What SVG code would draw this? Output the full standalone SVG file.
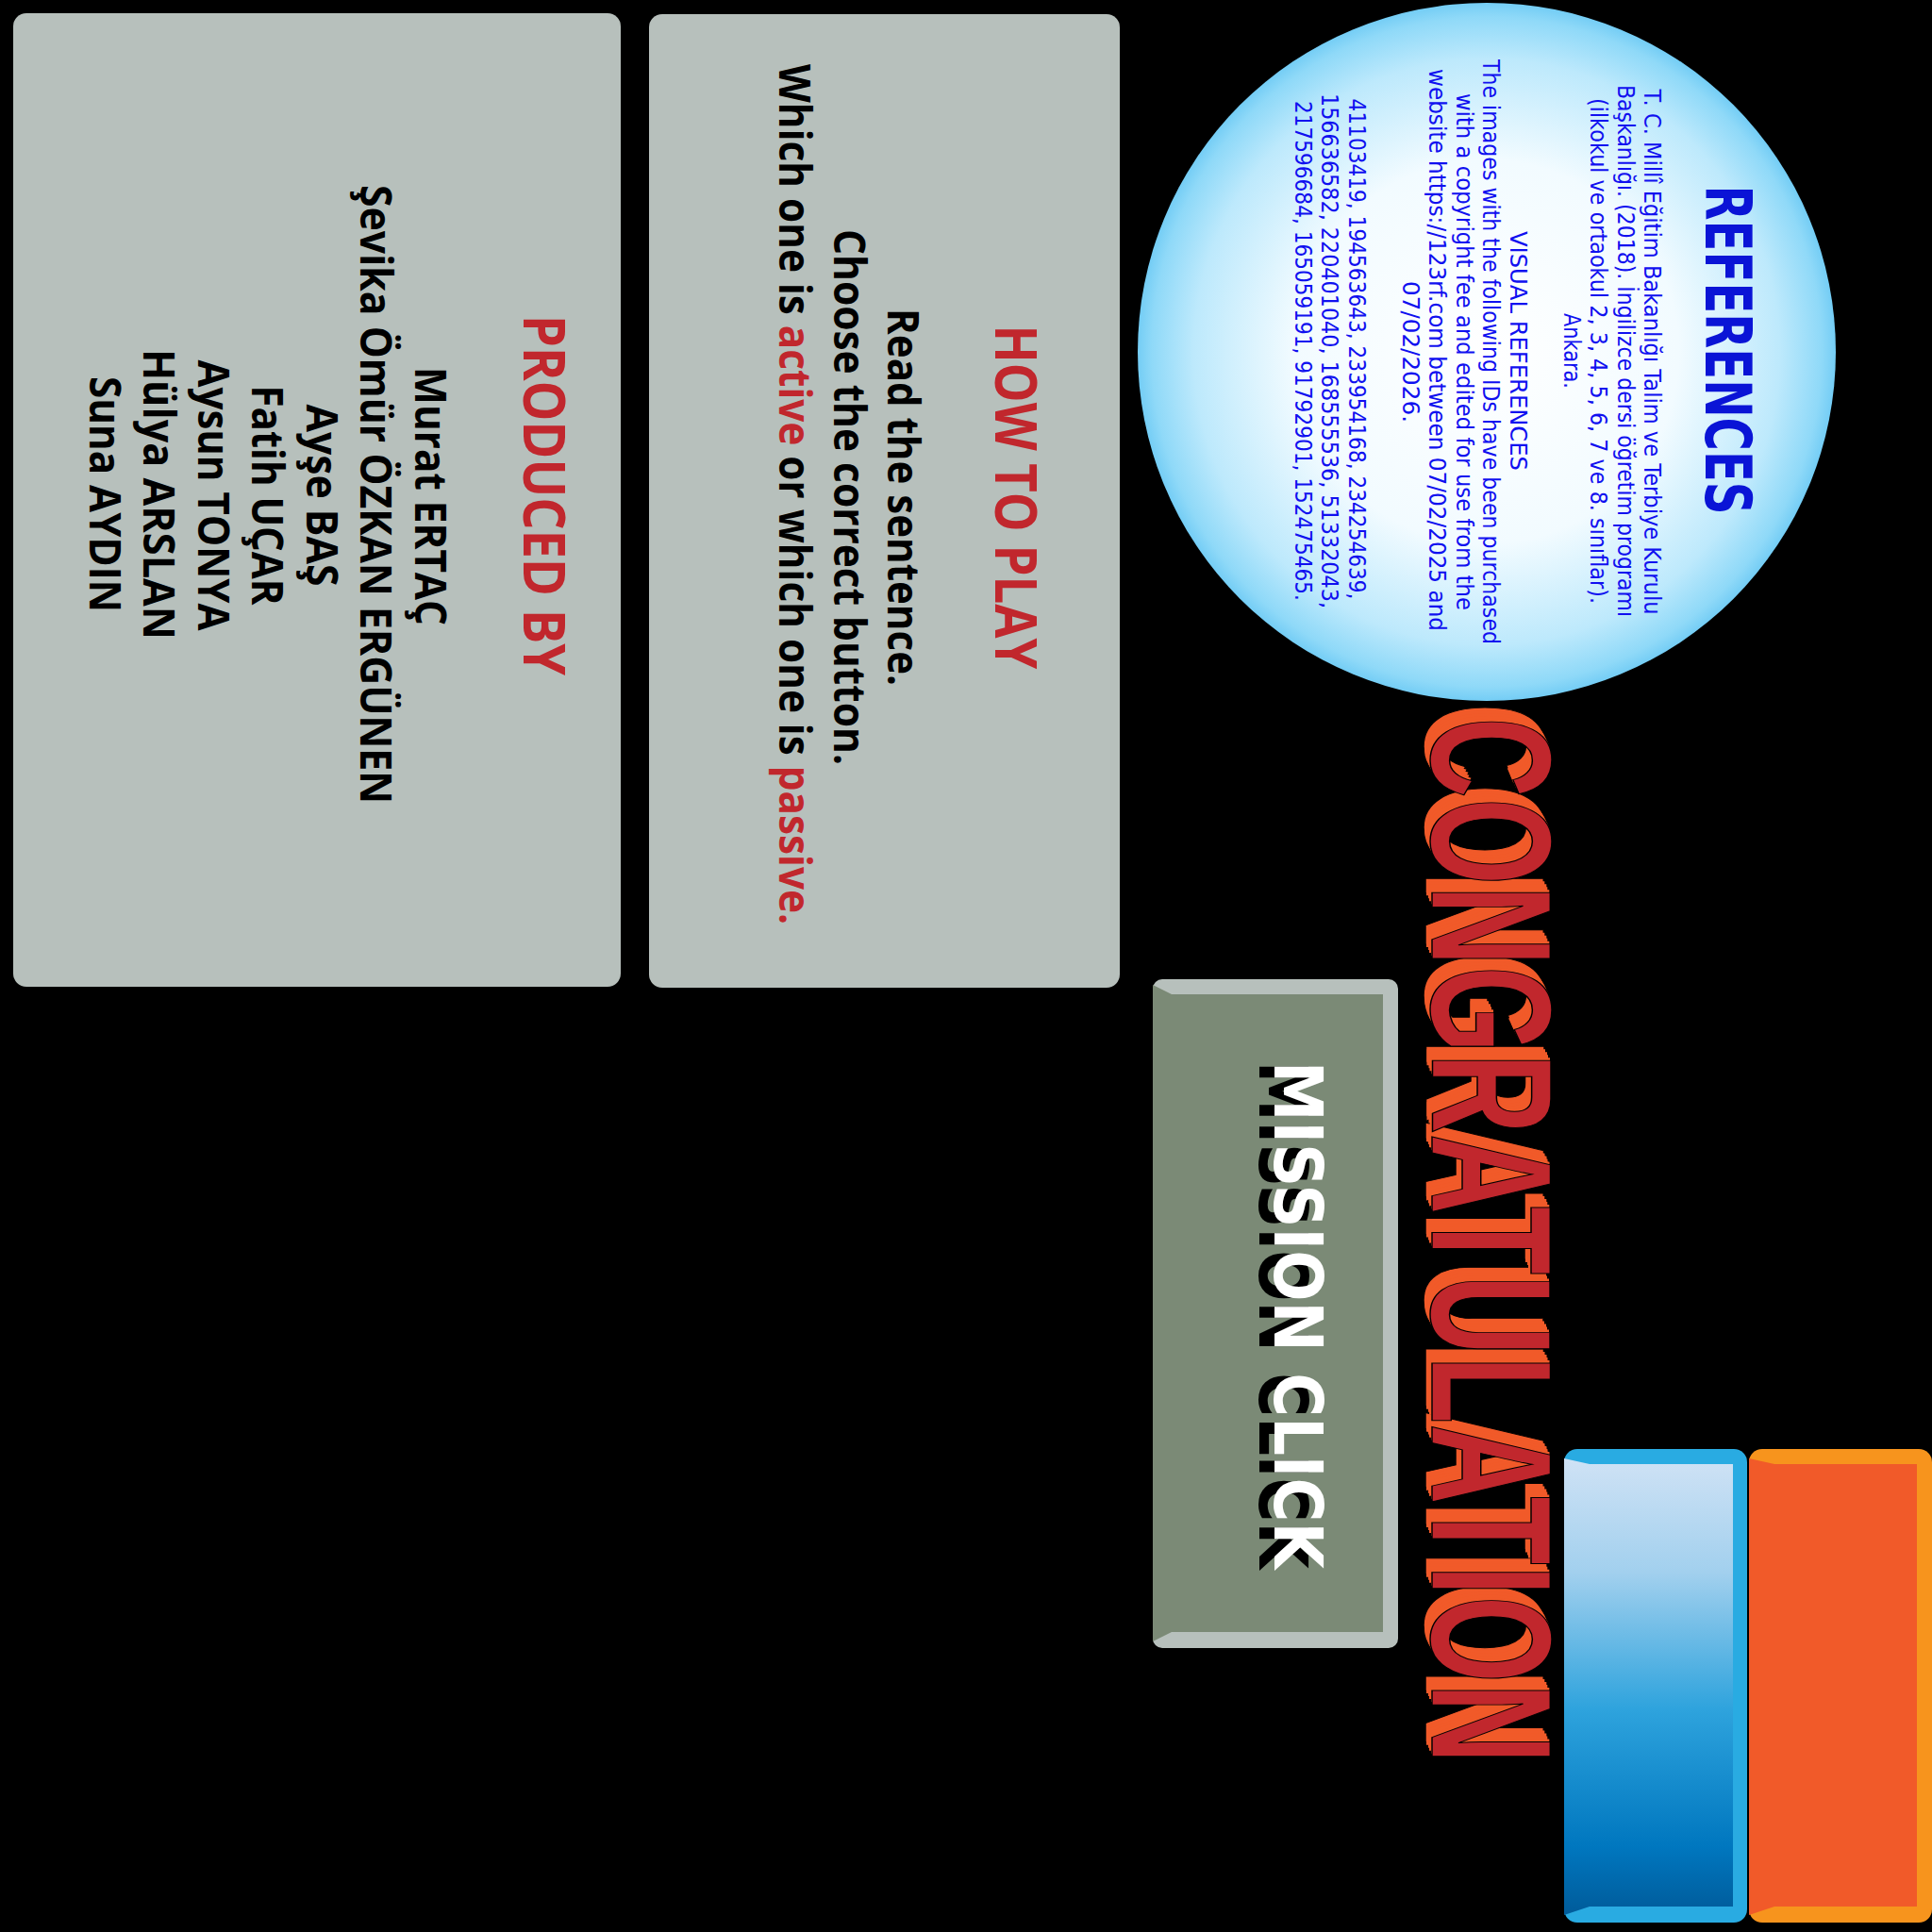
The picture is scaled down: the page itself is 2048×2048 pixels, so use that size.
<svg xmlns="http://www.w3.org/2000/svg" width="2048" height="2048" viewBox="0 0 2048 2048">
  <defs>
    <radialGradient id="bubble" cx="0.5" cy="0.5" r="0.5">
      <stop offset="0" stop-color="#ffffff"/>
      <stop offset="0.55" stop-color="#f2fbff"/>
      <stop offset="0.84" stop-color="#bde9fc"/>
      <stop offset="0.96" stop-color="#8fd9f8"/>
      <stop offset="1" stop-color="#74cdf5"/>
    </radialGradient>
    <linearGradient id="blueFace" x1="0" y1="0" x2="0" y2="1">
      <stop offset="0" stop-color="#cfe2f5"/>
      <stop offset="0.25" stop-color="#a2d0ee"/>
      <stop offset="0.55" stop-color="#2ea3dd"/>
      <stop offset="0.85" stop-color="#0077bf"/>
      <stop offset="1" stop-color="#005b9a"/>
    </linearGradient>
    <style>
      .panel { fill: #b7c0bc; }
      .myr { font-family: "Open Sans", "Liberation Sans", sans-serif; font-weight: 700; text-anchor: middle; }
      .title { fill: #c1272d; font-size: 60px; }
      .body { fill: #000000; font-size: 46px; }
      .red { fill: #c1272d; }
      .ref { font-family: "DejaVu Sans", "Liberation Sans", sans-serif; fill: #1010f0; font-size: 25px; text-anchor: middle; }
      .refTitle { font-family: "DejaVu Sans", "Liberation Sans", sans-serif; font-weight: 700; fill: #0a14d6; font-size: 67px; text-anchor: middle; }
      .congrats { font-family: "Liberation Sans", "DejaVu Sans", sans-serif; font-weight: 700; font-size: 182px; text-anchor: middle; }
      .mission { font-family: "DejaVu Sans", "Liberation Sans", sans-serif; font-weight: 700; font-size: 71px; text-anchor: middle; }
    </style>
  </defs>

  <rect x="0" y="0" width="2048" height="2048" fill="#000000"/>

  <!-- Produced by panel -->
  <g id="produced-by">
    <rect class="panel" x="14" y="14" width="644" height="1032" rx="14"/>
    <text class="myr title" transform="translate(555,525) rotate(90)" textLength="382" lengthAdjust="spacingAndGlyphs">PRODUCED BY</text>
    <text class="myr body" transform="translate(440,526) rotate(90)" textLength="274" lengthAdjust="spacingAndGlyphs">Murat ERTAÇ</text>
    <text class="myr body" transform="translate(382,524) rotate(90)" textLength="656" lengthAdjust="spacingAndGlyphs">Şevika Ömür ÖZKAN ERGÜNEN</text>
    <text class="myr body" transform="translate(325,525) rotate(90)" textLength="193" lengthAdjust="spacingAndGlyphs">Ayşe BAŞ</text>
    <text class="myr body" transform="translate(267,525) rotate(90)" textLength="233" lengthAdjust="spacingAndGlyphs">Fatih UÇAR</text>
    <text class="myr body" transform="translate(210,525) rotate(90)" textLength="287" lengthAdjust="spacingAndGlyphs">Aysun TONYA</text>
    <text class="myr body" transform="translate(152,524) rotate(90)" textLength="308" lengthAdjust="spacingAndGlyphs">Hülya ARSLAN</text>
    <text class="myr body" transform="translate(95,524) rotate(90)" textLength="250" lengthAdjust="spacingAndGlyphs">Suna AYDIN</text>
  </g>

  <!-- How to play panel -->
  <g id="how-to-play">
    <rect class="panel" x="688" y="15" width="499" height="1032" rx="14"/>
    <text class="myr title" transform="translate(1055,527) rotate(90)" textLength="365" lengthAdjust="spacingAndGlyphs">HOW TO PLAY</text>
    <text class="myr body" transform="translate(941,527) rotate(90)" textLength="400" lengthAdjust="spacingAndGlyphs">Read the sentence.</text>
    <text class="myr body" transform="translate(884,527) rotate(90)" textLength="568" lengthAdjust="spacingAndGlyphs">Choose the correct button.</text>
    <text class="myr body" transform="translate(826,524) rotate(90)" textLength="912" lengthAdjust="spacingAndGlyphs">Which one is <tspan class="red">active</tspan> or which one is <tspan class="red">passive.</tspan></text>
  </g>

  <!-- References bubble -->
  <g id="references">
    <circle cx="1576" cy="373" r="370" fill="url(#bubble)"/>
    <text class="refTitle" transform="translate(1808,371) rotate(90)" textLength="349" lengthAdjust="spacingAndGlyphs">REFERENCES</text>
    <text class="ref" transform="translate(1743,373) rotate(90)" textLength="557" lengthAdjust="spacingAndGlyphs">T. C. Millî Eğitim Bakanlığı Talim ve Terbiye Kurulu</text>
    <text class="ref" transform="translate(1714.5,372) rotate(90)" textLength="564" lengthAdjust="spacingAndGlyphs">Başkanlığı. (2018). İngilizce dersi öğretim programı</text>
    <text class="ref" transform="translate(1686,372) rotate(90)" textLength="536" lengthAdjust="spacingAndGlyphs">(ilkokul ve ortaokul 2, 3, 4, 5, 6, 7 ve 8. sınıflar).</text>
    <text class="ref" transform="translate(1657.5,372) rotate(90)" textLength="80" lengthAdjust="spacingAndGlyphs">Ankara.</text>
    <text class="ref" transform="translate(1600.5,372) rotate(90)" textLength="254" lengthAdjust="spacingAndGlyphs">VISUAL REFERENCES</text>
    <text class="ref" transform="translate(1572,373) rotate(90)" textLength="620" lengthAdjust="spacingAndGlyphs">The images with the following IDs have been purchased</text>
    <text class="ref" transform="translate(1543.5,373) rotate(90)" textLength="548" lengthAdjust="spacingAndGlyphs">with a copyright fee and edited for use from the</text>
    <text class="ref" transform="translate(1515,371) rotate(90)" textLength="596" lengthAdjust="spacingAndGlyphs">website https://123rf.com between 07/02/2025 and</text>
    <text class="ref" transform="translate(1486.5,373) rotate(90)" textLength="150" lengthAdjust="spacingAndGlyphs">07/02/2026.</text>
    <text class="ref" transform="translate(1429.5,370) rotate(90)" textLength="531" lengthAdjust="spacingAndGlyphs">41103419, 194563643, 233954168, 234254639,</text>
    <text class="ref" transform="translate(1401,372) rotate(90)" textLength="546" lengthAdjust="spacingAndGlyphs">156636582, 220401040, 168555536, 51332043,</text>
    <text class="ref" transform="translate(1372.5,372) rotate(90)" textLength="530" lengthAdjust="spacingAndGlyphs">217596684, 165059191, 91792901, 152475465.</text>
  </g>

  <!-- Congratulation word art -->
  <g id="congratulation" transform="translate(1518,1315) rotate(90) scale(0.652,1)">
    <text class="congrats" x="-23" y="7" fill="#f15a29" stroke="#000" stroke-width="1.5">CONGRATULATION</text>
    <text class="congrats" x="-18.4" y="5.6" fill="#f15a29">CONGRATULATION</text>
    <text class="congrats" x="-13.8" y="4.2" fill="#f15a29">CONGRATULATION</text>
    <text class="congrats" x="-9.2" y="2.8" fill="#f15a29">CONGRATULATION</text>
    <text class="congrats" x="-4.6" y="1.4" fill="#f15a29">CONGRATULATION</text>
    <text class="congrats" x="0" y="0" fill="#c1272d" stroke="#000" stroke-width="1.5">CONGRATULATION</text>
  </g>

  <!-- Mission click button -->
  <g id="mission-click">
    <rect x="1222" y="1038" width="260" height="709" rx="10" fill="#b7c0bc"/>
    <path d="M1222,1044 L1242,1054 L1466,1054 L1466,1730 L1242,1730 L1222,1740 Z" fill="#7b8a76"/>
    <text class="mission" transform="translate(1351,1394) rotate(90)" y="16" fill="#000000" textLength="538" lengthAdjust="spacingAndGlyphs">MISSION CLICK</text>
    <text class="mission" transform="translate(1351,1394) rotate(90)" fill="#ffffff" textLength="538" lengthAdjust="spacingAndGlyphs">MISSION CLICK</text>
  </g>

  <!-- Blue button -->
  <g id="blue-button">
    <rect x="1658" y="1536" width="194" height="502" rx="14" fill="#29abe2"/>
    <path d="M1658,1546 L1685,1552 L1837,1552 L1837,2021 L1685,2021 L1658,2030 Z" fill="url(#blueFace)"/>
  </g>

  <!-- Orange button -->
  <g id="orange-button">
    <rect x="1854" y="1536" width="194" height="502" rx="14" fill="#f7941d"/>
    <path d="M1854,1546 L1881,1552 L2032,1552 L2032,2021 L1881,2021 L1854,2030 Z" fill="#f15a29"/>
  </g>
</svg>
